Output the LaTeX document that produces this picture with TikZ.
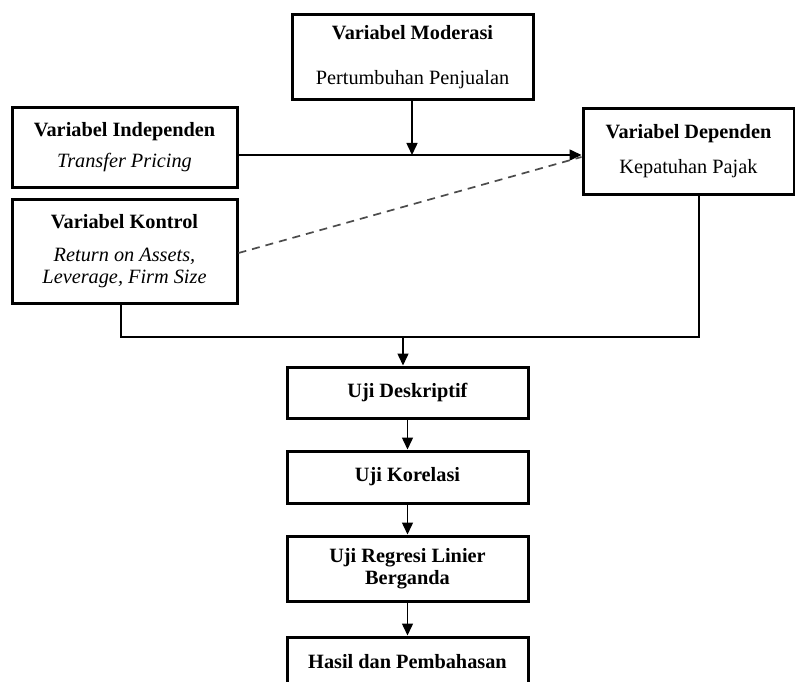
\documentclass[tikz,border=0pt]{standalone}
\usepackage{fontspec}
\setmainfont{Liberation Serif}
\usetikzlibrary{arrows.meta}
\begin{document}
\begin{tikzpicture}[x=1pt,y=-1pt,
  box/.style={draw=black,line width=3pt,inner sep=0pt,align=center,
    font=\fontsize{20.3}{22}\selectfont},
  conn/.style={draw=black,line width=1.5pt},
  arr/.style={conn,-{Triangle[length=12pt,width=11pt]}},
  dashconn/.style={draw=black!70,line width=1.7pt,dash pattern=on 8pt off 6pt}]
\useasboundingbox (0,0) rectangle (795,682);
\fill[white] (0,0) rectangle (795,682);
% boxes
\node[box,minimum width=241pt,minimum height=85pt] (mod) at (412.5,57.5)
  {\textbf{Variabel Moderasi}\\[23pt]Pertumbuhan Penjualan};
\node[box,minimum width=225pt,minimum height=79pt] (ind) at (124.5,147.5)
  {\textbf{Variabel Independen}\\[9pt]\textit{Transfer Pricing}};
\node[box,minimum width=225pt,minimum height=104pt] (kon) at (124.5,251)
  {\textbf{Variabel Kontrol}\\[11pt]\textit{Return on Assets,}\\\textit{Leverage, Firm Size}};
\node[box,minimum width=211pt,minimum height=85pt] (dep) at (688.5,151.5)
  {\textbf{Variabel Dependen}\\[13pt]Kepatuhan Pajak};
\node[box,minimum width=241pt,minimum height=51pt] (desk) at (407.5,392.5)
  {\textbf{Uji Deskriptif}};
\node[box,minimum width=241pt,minimum height=52pt] (kor) at (407.5,477)
  {\textbf{Uji Korelasi}};
\node[box,minimum width=241pt,minimum height=65pt] (reg) at (407.5,568.5)
  {\textbf{Uji Regresi Linier}\\\textbf{Berganda}};
\node[box,minimum width=241pt,minimum height=50pt] (has) at (407.5,662)
  {\textbf{Hasil dan Pembahasan}};
% connectors
\coordinate (mt) at (412,155);
\draw[arr] (mod.south -| mt) -- (mt);
\draw[arr] ([yshift=-7.5pt]ind.east) -- ([yshift=-7.5pt]ind.east -| dep.west);
\draw[dashconn] ([yshift=-2pt]kon.east) -- ([yshift=-5.5pt]dep.west);
\coordinate (jl) at (121,337);
\coordinate (jr) at (699,337);
\coordinate (jm) at (403,337);
\draw[conn] ([xshift=-3.5pt]kon.south) -- (jl) -- (jr) -- ([xshift=10.5pt]dep.south);
\draw[arr] (jm) -- (jm |- desk.north);
\draw[arr] (desk.south) -- (kor.north);
\draw[arr] (kor.south) -- (reg.north);
\draw[arr] (reg.south) -- (has.north);
\end{tikzpicture}
\end{document}
